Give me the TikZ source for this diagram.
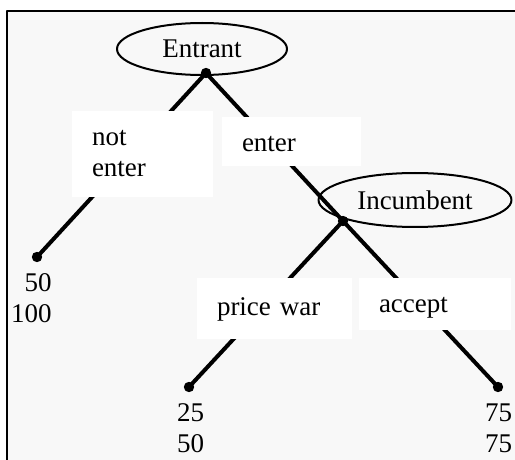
\documentclass[tikz,border=0pt]{standalone}
\usepackage{fontspec}
\setmainfont{Liberation Serif}
\usetikzlibrary{shapes.geometric}
\definecolor{bg}{HTML}{F8F8F8}
\tikzset{
  move/.style={line width=2pt},
  player/.style={ellipse, draw, line width=1pt, inner sep=0pt},
  act/.style={fill=white, align=left, inner xsep=10pt, inner ysep=0pt, text width=#1},
  oneline/.style={text height=#1, text depth=0pt},
  pay/.style={align=right, inner sep=0pt, anchor=east},
}
\begin{document}
\begin{tikzpicture}[x=0.5pt, y=-0.5pt, font=\fontsize{13.5}{15.5}\selectfont, line join=round, line cap=round]
  \useasboundingbox (0,0) rectangle (515,460);
  \fill[bg] (7,11) rectangle (515,460);
  \draw[line width=1pt, line cap=butt] (7,460)--(7,11)--(515,11);
  \path
  (206,73) coordinate (e)
  (343,221) coordinate (i)
  (37,257) coordinate (l1)
  (189,387) coordinate (l2)
  (498,387) coordinate (l3)
  ;
  \draw[move] (e)--(l1) (e)--(i)--(l3) (i)--(l2);
  \node[player, minimum width=85pt, minimum height=26pt] (E) at (202,49) {Entrant};
  \node[player, minimum width=96.5pt, minimum height=27pt] (I) at (415,200) {Incumbent};
  \node[act=50.5pt, minimum height=43pt] (ne) at (142.5,154) {not\\enter};
  \node[act=49.5pt, oneline=10pt, minimum height=24.5pt] (en) at (291.5,141.5) {enter};
  \node[act=57.5pt, oneline=6.5pt, minimum height=30.5pt] (pw) at (274.5,308.5) {price war};
  \node[act=56pt, oneline=9pt, minimum height=26pt] (ac) at (435,304) {accept};
  \foreach \x in {e,i,l1,l2,l3}
  \fill[black] (\x) circle (2.6pt);
  \node[pay] (p1) at (52,298.5) {50\\100};
  \node[pay] (p2) at (204.5,428.5) {25\\50};
  \node[pay] (p3) at (512.5,428.5) {75\\75};
\end{tikzpicture}
\end{document}
